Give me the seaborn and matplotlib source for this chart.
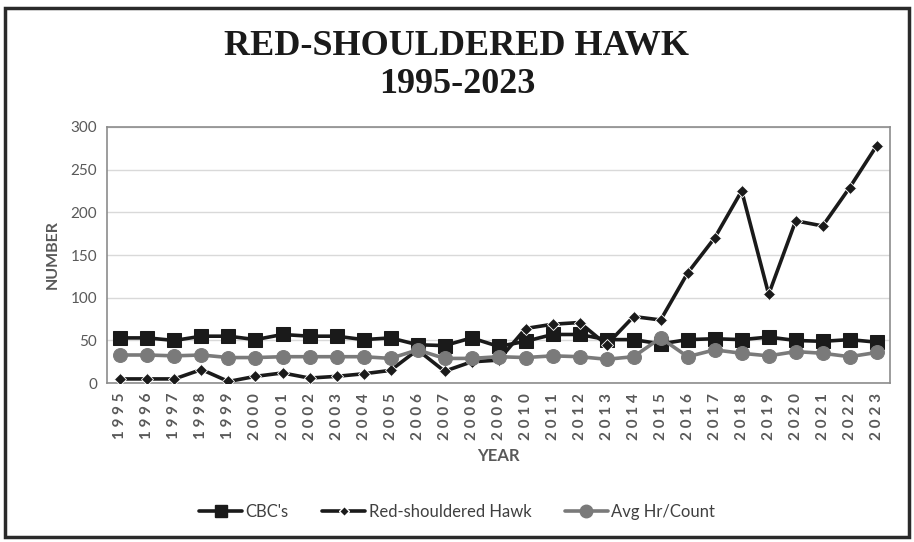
import matplotlib
matplotlib.use('Agg')
import matplotlib.pyplot as plt
import seaborn as sns
import pandas as pd
from matplotlib.lines import Line2D
from matplotlib.patches import Rectangle

years = list(range(1995, 2024))
cbc = [53, 53, 50, 55, 55, 51, 57, 55, 55, 51, 53, 45, 44, 53, 43,
       49, 57, 57, 51, 51, 46, 51, 52, 51, 54, 50, 49, 51, 48]
hawk = [5, 5, 5, 16, 2, 8, 12, 6, 8, 11, 15, 39, 14, 25, 27,
        64, 69, 71, 45, 78, 74, 129, 170, 225, 104, 190, 184, 229, 278]
avg_hr = [33, 33, 32, 33, 30, 30, 31, 31, 31, 31, 29, 39, 29, 29, 31,
          30, 32, 31, 28, 31, 53, 31, 39, 35, 32, 37, 35, 31, 36]
y_ticks = [0, 50, 100, 150, 200, 250, 300]

df = pd.DataFrame({'year': years, "CBC's": cbc,
                   'Red-shouldered Hawk': hawk, 'Avg Hr/Count': avg_hr})

sns.set_style('white')
plt.rcParams['font.family'] = ['Lato', 'DejaVu Sans']

fig = plt.figure(figsize=(9.14, 5.42), dpi=100)
ax = fig.add_axes([0.117, 0.293, 0.857, 0.473])

dark = '#1a1a1a'
grey = '#7a7a7a'
sns.lineplot(data=df, x='year', y="CBC's", ax=ax, color=dark, lw=2.6,
             marker='s', markersize=10, markeredgecolor=dark, zorder=3)
sns.lineplot(data=df, x='year', y='Red-shouldered Hawk', ax=ax, color=dark, lw=2.6,
             marker='D', markersize=6, markeredgecolor='white', markeredgewidth=0.6, zorder=4)
sns.lineplot(data=df, x='year', y='Avg Hr/Count', ax=ax, color=grey, lw=2.6,
             marker='o', markersize=10, markeredgecolor=grey, zorder=5)

ax.set_xlim(1994.5, 2023.5)
ax.set_ylim(0, 300)
ax.set_yticks(y_ticks)
ax.set_yticklabels([str(v) for v in y_ticks], fontsize=11, color='#595959')
ax.set_xticks(years)
ax.set_xticklabels([' '.join(str(y)) for y in years], rotation=90,
                   fontsize=11, color='#595959', fontweight='bold')
ax.tick_params(length=0, pad=7)
ax.grid(axis='y', color='#d9d9d9', lw=1)
for s in ax.spines.values():
    s.set_color('#8c8c8c')
    s.set_linewidth(1.2)

ax.set_xlabel('YEAR', fontsize=12, fontweight='bold', color='#595959', labelpad=6)
ax.set_ylabel('NUMBER', fontsize=11.5, fontweight='bold', color='#595959', labelpad=8)

fig.text(0.5, 0.915, 'RED-SHOULDERED HAWK', ha='center', va='center',
         fontsize=26, fontweight='bold', family='Liberation Serif', color='#1a1a1a')
fig.text(0.5, 0.845, '1995-2023', ha='center', va='center',
         fontsize=26, fontweight='bold', family='Liberation Serif', color='#1a1a1a')

handles = [
    Line2D([], [], color=dark, lw=2.6, marker='s', markersize=9),
    Line2D([], [], color=dark, lw=2.6, marker='D', markersize=5, markeredgecolor='white'),
    Line2D([], [], color=grey, lw=2.6, marker='o', markersize=9),
]
ax.legend(handles, ["CBC's", 'Red-shouldered Hawk', 'Avg Hr/Count'],
          loc='center', bbox_to_anchor=(0.5, 0.055), bbox_transform=fig.transFigure,
          ncol=3, frameon=False, fontsize=12, handlelength=2.6, columnspacing=2.0,
          handletextpad=0.2, labelcolor='#404040')

fig.patches.append(Rectangle((0.006, 0.01), 0.988, 0.975, transform=fig.transFigure,
                             fill=False, edgecolor='#2a2a2a', lw=2.5))

fig.savefig('out.png', dpi=100)
